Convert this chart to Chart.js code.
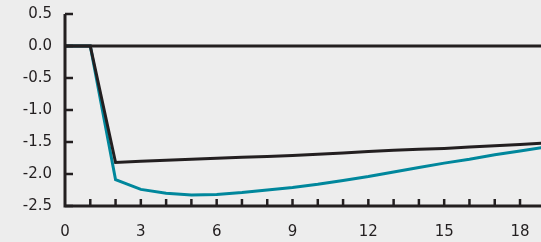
<!DOCTYPE html>
<html>
<head>
<meta charset="utf-8">
<script src="https://cdn.jsdelivr.net/npm/chart.js@4/dist/chart.umd.min.js"></script>
<style>
  html, body { margin: 0; padding: 0; background: #ededed; }
  #wrap { width: 541px; height: 242px; }
</style>
</head>
<body>
<div id="wrap"><canvas id="chart"></canvas></div>
<script>
    'use strict';

    var black = '#231f20',
        teal = '#00879c';

    // periods 0..19
    var periods = [0, 1, 2, 3, 4, 5, 6, 7, 8, 9, 10, 11, 12, 13, 14, 15, 16, 17, 18, 19];
    var blackSeries = [0, 0, -1.82, -1.80, -1.785, -1.77, -1.755, -1.74, -1.725, -1.71, -1.69, -1.67, -1.65, -1.63, -1.615, -1.60, -1.58, -1.56, -1.54, -1.515];
    var tealSeries = [0, 0, -2.09, -2.24, -2.30, -2.33, -2.32, -2.29, -2.25, -2.21, -2.16, -2.10, -2.04, -1.97, -1.90, -1.83, -1.77, -1.70, -1.64, -1.58];
    var zeroLine = [0, 0, 0, 0, 0, 0, 0, 0, 0, 0, 0, 0, 0, 0, 0, 0, 0, 0, 0, 0];
    var yTicks = [0.5, 0.0, -0.5, -1.0, -1.5, -2.0, -2.5];
    var xLabels = [0, 3, 6, 9, 12, 15, 18];

    function pts(arr) {
        return periods.map(function (p, i) { return { x: p, y: arr[i] }; });
    }

    // axis lines and inward tick marks
    var axisPlugin = {
        id: 'axisTicks',
        afterDatasetsDraw: function (chart) {
            var ctx = chart.ctx, xs = chart.scales.x, ys = chart.scales.y;
            var left = xs.getPixelForValue(0), bottom = ys.getPixelForValue(-2.5), top = ys.getPixelForValue(0.5);
            ctx.save();
            ctx.strokeStyle = black;
            ctx.lineWidth = 3;
            ctx.lineCap = 'butt';
            ctx.beginPath();
            ctx.moveTo(left, top);
            ctx.lineTo(left, bottom);
            ctx.lineTo(chart.width, bottom);
            ctx.stroke();
            ctx.lineWidth = 2.5;
            yTicks.forEach(function (v) {
                var y = ys.getPixelForValue(v);
                ctx.beginPath();
                ctx.moveTo(left, y);
                ctx.lineTo(left + 8, y);
                ctx.stroke();
            });
            for (var i = 1; i <= 18; i++) {
                var x = xs.getPixelForValue(i);
                ctx.beginPath();
                ctx.moveTo(x, bottom);
                ctx.lineTo(x, bottom - 7);
                ctx.stroke();
            }
            ctx.restore();
        }
    };

    var chartEl = document.getElementById('chart');
    new Chart(chartEl.getContext('2d'), {
        type: 'line',
        data: {
            datasets: [{
                data: pts(zeroLine),
                borderColor: black,
                borderWidth: 3,
                pointRadius: 0
            },
            {
                data: pts(blackSeries),
                borderColor: black,
                borderWidth: 3,
                pointRadius: 0
            },
            {
                data: pts(tealSeries),
                borderColor: teal,
                borderWidth: 3,
                pointRadius: 0
            }]
        },
        options: {
            responsive: true,
            maintainAspectRatio: false,
            animation: false,
            layout: { padding: { top: 14, right: 0, left: 0, bottom: 0 } },
            plugins: {
                legend: { display: false },
                tooltip: { enabled: false }
            },
            scales: {
                x: {
                    type: 'linear',
                    min: 0,
                    max: 18.83,
                    grid: { display: false, drawTicks: false },
                    border: { display: false },
                    afterBuildTicks: function (s) {
                        s.ticks = xLabels.map(function (v) { return { value: v }; });
                    },
                    afterFit: function (s) {
                        s.height = 36;
                        s.paddingLeft = 0;
                        s.paddingRight = 0;
                    },
                    ticks: {
                        padding: 17,
                        maxRotation: 0,
                        color: black,
                        font: { family: 'DejaVu Sans', size: 15 }
                    }
                },
                y: {
                    min: -2.5,
                    max: 0.5,
                    grid: { display: false, drawTicks: false },
                    border: { display: false },
                    afterBuildTicks: function (s) {
                        s.ticks = yTicks.map(function (v) { return { value: v }; });
                    },
                    afterFit: function (s) {
                        s.width = 65;
                        s.paddingTop = 0;
                        s.paddingBottom = 0;
                    },
                    ticks: {
                        padding: 13,
                        color: black,
                        font: { family: 'DejaVu Sans', size: 15 },
                        callback: function (v) { return v.toFixed(1); }
                    }
                }
            }
        },
        plugins: [axisPlugin]
    });
</script>
</body>
</html>
